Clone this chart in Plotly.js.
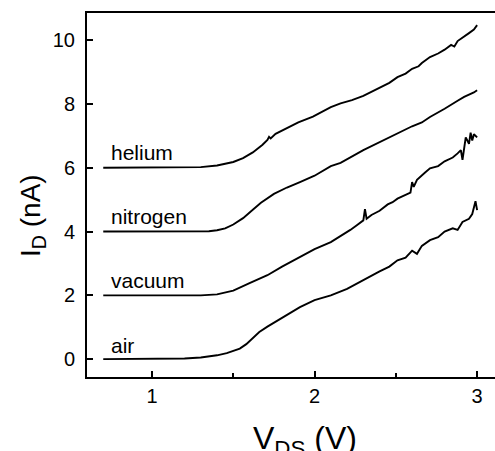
<!DOCTYPE html>
<html>
<head>
<meta charset="utf-8">
<script src="https://cdn.plot.ly/plotly-3.0.1.min.js"></script>
<style>html,body{margin:0;padding:0;background:#fff;}#plot{width:495px;height:451px;}</style>
</head>
<body>
<div id="plot"></div>
<script>
// V_DS (V) and I_D (nA)
const heliumX = [0.70,1.00,1.20,1.30,1.40,1.50,1.56,1.62,1.68,1.71,1.72,1.73,1.76,1.83,1.90,1.99,2.10,2.16,2.23,2.30,2.40,2.46,2.51,2.56,2.60,2.64,2.66,2.71,2.76,2.80,2.84,2.86,2.88,2.92,2.95,2.98,3.00];
const heliumY = [6.00,6.00,6.00,6.02,6.07,6.18,6.30,6.48,6.72,6.87,6.97,6.92,7.06,7.24,7.42,7.60,7.90,8.02,8.12,8.25,8.50,8.66,8.84,8.95,9.10,9.18,9.28,9.47,9.58,9.70,9.85,9.80,9.97,10.10,10.22,10.33,10.47];

const nitrogenX = [0.70,1.20,1.35,1.40,1.45,1.50,1.56,1.62,1.67,1.75,1.83,1.91,2.00,2.10,2.16,2.30,2.40,2.51,2.60,2.66,2.71,2.80,2.85,2.88,2.92,2.95,2.98,3.00];
const nitrogenY = [4.00,4.00,4.01,4.04,4.10,4.22,4.42,4.68,4.90,5.18,5.38,5.55,5.75,6.05,6.15,6.55,6.80,7.08,7.30,7.42,7.59,7.85,8.02,8.10,8.22,8.28,8.36,8.43];

const vacuumX = [0.70,1.30,1.40,1.50,1.60,1.71,1.80,1.91,2.00,2.10,2.16,2.22,2.26,2.30,2.31,2.32,2.35,2.40,2.45,2.48,2.51,2.56,2.59,2.60,2.61,2.63,2.65,2.68,2.71,2.76,2.80,2.85,2.88,2.90,2.91,2.92,2.93,2.95,2.96,2.97,2.98,3.00];
const vacuumY = [2.00,2.00,2.03,2.15,2.38,2.63,2.90,3.20,3.45,3.67,3.85,4.05,4.20,4.35,4.70,4.40,4.52,4.65,4.85,4.92,5.03,5.15,5.22,5.55,5.40,5.62,5.72,5.85,5.98,6.05,6.20,6.32,6.45,6.55,6.25,6.60,6.95,6.75,7.10,6.85,7.05,6.95];

const airX = [0.70,1.10,1.20,1.30,1.40,1.46,1.50,1.54,1.58,1.62,1.66,1.71,1.80,1.91,2.00,2.10,2.20,2.30,2.40,2.46,2.51,2.56,2.60,2.63,2.66,2.71,2.76,2.80,2.85,2.88,2.91,2.95,2.97,2.99,3.00];
const airY = [0.00,0.00,0.02,0.05,0.12,0.19,0.25,0.33,0.47,0.66,0.85,1.02,1.30,1.63,1.85,2.00,2.20,2.48,2.75,2.90,3.10,3.18,3.40,3.30,3.55,3.73,3.82,4.00,4.10,4.05,4.30,4.40,4.55,4.95,4.67];

const labelNames = ["helium","nitrogen","vacuum","air"];
const labelY = [6.49,4.48,2.45,0.44];

const xTicks = [1,2,3];
const yTicks = [0,2,4,6,8,10];

const FONT = 'Liberation Sans, Arial, sans-serif';
const series = [[heliumX,heliumY],[nitrogenX,nitrogenY],[vacuumX,vacuumY],[airX,airY]];
const traces = series.map((s,i)=>({
  x:s[0], y:s[1], type:'scatter', mode:'lines', name:labelNames[i],
  line:{color:'#000', width:1.9}, hoverinfo:'skip'
}));

const annotations = labelNames.map((n,i)=>({
  x:0.735, y:labelY[i], xref:'x', yref:'y', text:n, showarrow:false,
  xanchor:'left', yanchor:'middle',
  font:{family:FONT, size:21, color:'#000'}
}));
// axis titles
annotations.push({
  xref:'paper', yref:'paper', x:0.534, y:-0.113, xanchor:'center', yanchor:'top',
  text:'V<sub>DS</sub> (V)', showarrow:false, font:{family:FONT, size:32, color:'#000'}
});
annotations.push({
  xref:'paper', yref:'paper', x:-0.135, y:0.445, xanchor:'center', yanchor:'middle',
  textangle:-90, text:'I<sub>D</sub> (nA)', showarrow:false, font:{family:FONT, size:28, color:'#000'}
});

const layout = {
  width:495, height:451,
  margin:{l:87, r:0, t:13, b:74},
  paper_bgcolor:'#fff', plot_bgcolor:'#fff',
  showlegend:false,
  font:{family:FONT, color:'#000'},
  xaxis:{
    range:[0.6,3.11], showgrid:false, zeroline:false,
    showline:true, linecolor:'#000', linewidth:2, mirror:true,
    ticks:'inside', ticklen:6, tickwidth:2, tickcolor:'#000',
    tickvals:xTicks, ticktext:xTicks.map(String),
    minor:{ticks:'inside', ticklen:4, tickwidth:2, tickcolor:'#000', dtick:0.5, tick0:0.5, showgrid:false},
    tickfont:{size:20, family:FONT}
  },
  yaxis:{
    range:[-0.56,10.85], showgrid:false, zeroline:false,
    showline:true, linecolor:'#000', linewidth:2, mirror:false,
    ticks:'inside', ticklen:6, tickwidth:2, tickcolor:'#000',
    tickvals:yTicks, ticktext:yTicks.map(String),
    tickfont:{size:20, family:FONT},
    ticklabelstandoff:6
  },
  annotations:annotations
};

Plotly.newPlot('plot', traces, layout, {staticPlot:true, displayModeBar:false});
</script>
</body>
</html>
